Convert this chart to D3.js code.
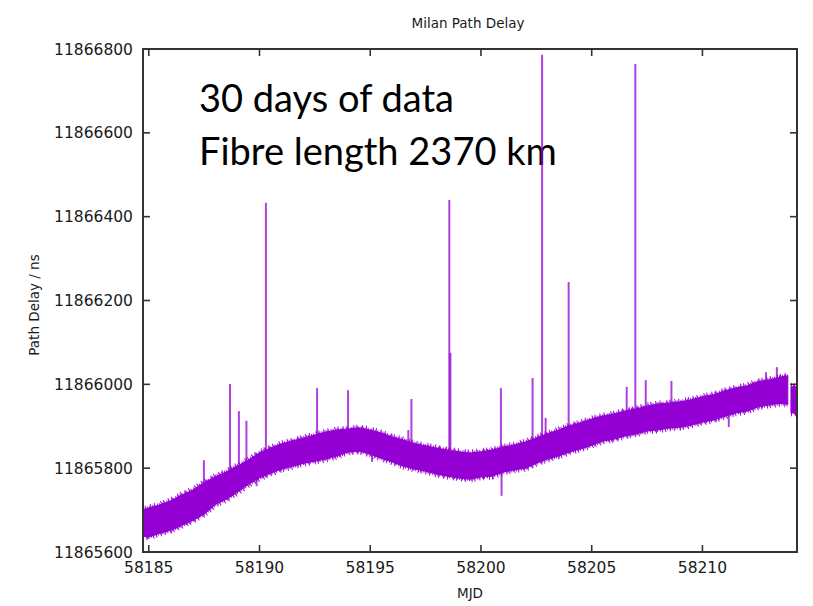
<!DOCTYPE html>
<html><head><meta charset="utf-8">
<script src="https://cdn.jsdelivr.net/npm/d3@7"></script>
<style>
html,body{margin:0;padding:0;background:#fff;}
svg{display:block;}
</style></head>
<body>
<script>
// ---- data ----
const title = "Milan Path Delay";
const xLabel = "MJD";
const yLabel = "Path Delay / ns";
const note = ["30 days of data", "Fibre length 2370 km"];
const xTicks = [58185, 58190, 58195, 58200, 58205, 58210];
const yTicks = [11865600, 11865800, 11866000, 11866200, 11866400, 11866600, 11866800];

// band envelope (MJD, upper, lower) — main segment
const bandMJD = [58184.74,58185.0,58185.5,58186.0,58186.5,58187.0,58187.5,58188.0,58188.5,58189.0,58189.5,58190.0,58190.5,58191.0,58191.5,58192.0,58192.5,58193.0,58193.5,58194.0,58194.5,58195.0,58195.5,58196.0,58196.5,58197.0,58197.5,58198.0,58198.5,58199.0,58199.5,58200.0,58200.5,58201.0,58201.5,58202.0,58202.5,58203.0,58203.5,58204.0,58204.5,58205.0,58205.5,58206.0,58206.5,58207.0,58207.5,58208.0,58208.5,58209.0,58209.5,58210.0,58210.5,58211.0,58211.5,58212.0,58212.5,58213.0,58213.5,58213.85];
const bandUpper = [11865700,11865705,11865712,11865722,11865736,11865748,11865765,11865779,11865791,11865805,11865819,11865836,11865848,11865858,11865865,11865872,11865879,11865886,11865891,11865893,11865896,11865891,11865884,11865874,11865867,11865858,11865853,11865848,11865843,11865839,11865836,11865839,11865843,11865850,11865855,11865862,11865872,11865882,11865891,11865901,11865908,11865917,11865924,11865929,11865936,11865941,11865948,11865953,11865955,11865958,11865963,11865970,11865975,11865984,11865991,11865996,11866006,11866010,11866017,11866020];
const bandLower = [11865638,11865636,11865645,11865652,11865664,11865676,11865691,11865714,11865726,11865743,11865762,11865777,11865788,11865798,11865805,11865812,11865817,11865822,11865829,11865839,11865841,11865834,11865824,11865815,11865805,11865798,11865793,11865786,11865781,11865777,11865774,11865779,11865781,11865791,11865796,11865800,11865812,11865822,11865829,11865839,11865846,11865855,11865865,11865869,11865877,11865882,11865889,11865891,11865896,11865898,11865903,11865910,11865915,11865924,11865932,11865936,11865946,11865951,11865955,11865953];
// short final segment after a gap
const tailMJD = [58214.0, 58214.27];
const tailUpper = [11865994, 11865994];
const tailLower = [11865932, 11865932];

// upward spikes (MJD, peak value)
const spikeMJD = [58187.49,58188.67,58189.07,58189.41,58190.29,58192.60,58194.00,58196.72,58196.86,58198.57,58198.62,58200.90,58202.33,58202.76,58202.92,58203.96,58206.58,58206.97,58207.44,58208.60,58212.87,58213.36];
const spikeTop = [11865819,11866001,11865936,11865913,11866433,11865991,11865986,11865891,11865965,11866440,11866075,11865991,11866015,11866786,11865920,11866244,11865994,11866764,11866010,11866008,11866029,11866041];
// downward spikes (MJD, lowest value)
const dipMJD = [58189.87,58195.08,58200.93,58211.19];
const dipBottom = [11865757,11865815,11865734,11865898];

// ---- drawing ----
const W = 813, H = 606;
const m = {left:143, right:797, top:49, bottom:552};
const col = "#9400d3";
const svg = d3.select("body").append("svg").attr("width", W).attr("height", H);
const x = d3.scaleLinear().domain([58184.74, 58214.27]).range([m.left, m.right]);
const y = d3.scaleLinear().domain([11865600, 11866800]).range([m.bottom, m.top]);
const font = "'DejaVu Sans', sans-serif";

// annotation
const ann = svg.append("g").attr("font-family", "Lato, 'Open Sans', sans-serif").attr("fill", "#000");
const a1 = ann.append("text").attr("x", 199).attr("y", 112).attr("font-size", 36).text(note[0]);
const a2 = ann.append("text").attr("x", 199).attr("y", 165).attr("font-size", 36).text(note[1]);
const w2 = a2.node().getComputedTextLength();
const fs = 36 * 358 / w2;
a1.attr("font-size", fs); a2.attr("font-size", fs);

const plot = svg.append("g");
const band = (mjd, up, lo) => mjd.map((d, i) => ({x: d, u: up[i], l: lo[i]}));
const area = d3.area().x(d => x(d.x)).y0(d => y(d.l)).y1(d => y(d.u));
const upLine = d3.line().x(d => x(d.x)).y(d => y(d.u));
const loLine = d3.line().x(d => x(d.x)).y(d => y(d.l));
[band(bandMJD, bandUpper, bandLower), band(tailMJD, tailUpper, tailLower)].forEach(b => {
  plot.append("path").datum(b).attr("d", area).attr("fill", col)
    .attr("stroke", col).attr("stroke-width", 1.2).attr("stroke-linejoin", "round");
  // noisy-edge texture (drawing style only)
  [[upLine, 7, "1 2 1 4 1 3 1 6"], [loLine, 7, "1 3 1 5 1 2 1 4"],
   [upLine, 4, "1 1 1 2"], [loLine, 4, "1 2 1 1"]].forEach(([g, w, da]) => {
    plot.append("path").datum(b).attr("d", g).attr("fill", "none")
      .attr("stroke", col).attr("stroke-width", w).attr("stroke-dasharray", da)
      .attr("stroke-opacity", 0.9);
  });
});
const baseAt = (v, arr) => {
  const i = Math.max(0, Math.min(bandMJD.length - 1, d3.bisectLeft(bandMJD, v)));
  return arr[i];
};
spikeMJD.forEach((s, i) => {
  plot.append("line").attr("x1", x(s)).attr("x2", x(s))
    .attr("y1", y(baseAt(s, bandUpper)) + 4).attr("y2", y(spikeTop[i]))
    .attr("stroke", col).attr("stroke-width", 2).attr("stroke-opacity", 0.75);
});
dipMJD.forEach((s, i) => {
  plot.append("line").attr("x1", x(s)).attr("x2", x(s))
    .attr("y1", y(baseAt(s, bandLower)) - 4).attr("y2", y(dipBottom[i]))
    .attr("stroke", col).attr("stroke-width", 2).attr("stroke-opacity", 0.75);
});

// axes (gnuplot style: inward ticks mirrored on all sides)
const tk = 7;
const ax = svg.append("g").attr("stroke", "#333").attr("stroke-width", 1.6);
xTicks.forEach(t => {
  ax.append("line").attr("x1", x(t)).attr("x2", x(t)).attr("y1", m.bottom).attr("y2", m.bottom - tk);
  ax.append("line").attr("x1", x(t)).attr("x2", x(t)).attr("y1", m.top).attr("y2", m.top + tk);
});
yTicks.forEach(t => {
  ax.append("line").attr("x1", m.left).attr("x2", m.left + tk).attr("y1", y(t)).attr("y2", y(t));
  ax.append("line").attr("x1", m.right).attr("x2", m.right - tk).attr("y1", y(t)).attr("y2", y(t));
});
svg.append("rect").attr("x", m.left).attr("y", m.top).attr("width", m.right - m.left).attr("height", m.bottom - m.top)
  .attr("fill", "none").attr("stroke", "#333").attr("stroke-width", 2);

const lab = svg.append("g").attr("font-family", font).attr("fill", "#1a1a1a");
lab.selectAll(".xt").data(xTicks).join("text").attr("x", d => x(d)).attr("y", 573)
  .attr("text-anchor", "middle").attr("font-size", 15.5).text(d => d);
lab.selectAll(".yt").data(yTicks).join("text").attr("x", 133).attr("y", d => y(d) + 5.5)
  .attr("text-anchor", "end").attr("font-size", 15.5).text(d => d);
lab.append("text").attr("x", 468).attr("y", 28).attr("text-anchor", "middle").attr("font-size", 13.5).text(title);
lab.append("text").attr("x", 470).attr("y", 598).attr("text-anchor", "middle").attr("font-size", 13.5).text(xLabel);
lab.append("text").attr("transform", "translate(39,305) rotate(-90)").attr("text-anchor", "middle").attr("font-size", 13.5).text(yLabel);
</script>
</body></html>
